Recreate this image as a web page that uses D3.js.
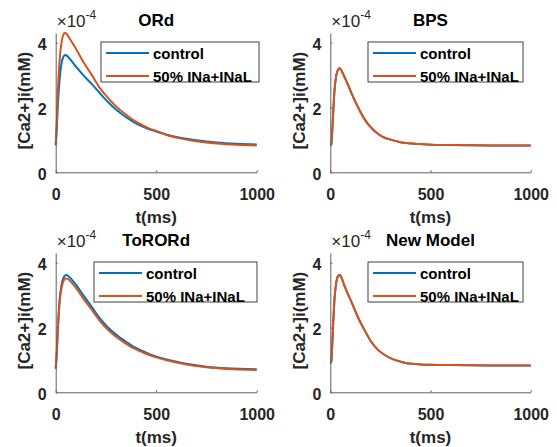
<!DOCTYPE html>
<html>
<head>
<meta charset="utf-8">
<script src="https://cdn.jsdelivr.net/npm/d3@7"></script>
<style>
  body { margin: 0; background: #fff; }
  svg { display: block; font-family: "Liberation Sans", Arial, sans-serif; }
</style>
</head>
<body>
<svg id="chart" width="557" height="447"></svg>
<script>
// values in units of 1e-4 mM
const seriesNames = ['control', '50% INa+INaL']
const titles = ['ORd', 'BPS', 'ToRORd', 'New Model']
const xTicks = [0, 500, 1000]
const yTicks = [0, 2, 4]

const ordTime = [0, 5, 10, 20, 30, 40, 46, 55, 70, 100, 137, 180, 220, 260, 303, 350, 386, 430, 469, 500, 552, 600, 700, 800, 900, 1000]
const ordControl = [0.83, 1.3, 2.0, 2.9, 3.4, 3.58, 3.62, 3.6, 3.5, 3.27, 3.0, 2.72, 2.44, 2.17, 1.92, 1.7, 1.56, 1.42, 1.32, 1.26, 1.16, 1.09, 0.99, 0.92, 0.88, 0.86]
const ordHalf = [0.88, 1.5, 2.4, 3.5, 4.05, 4.27, 4.3, 4.27, 4.12, 3.82, 3.41, 3.0, 2.6, 2.3, 2.02, 1.78, 1.61, 1.46, 1.34, 1.28, 1.15, 1.07, 0.96, 0.89, 0.85, 0.83]

const bpsTime = [0, 5, 10, 15, 20, 30, 40, 47, 55, 70, 90, 110, 139, 170, 200, 222, 260, 305, 350, 388, 450, 500, 600, 800, 1000]
const bpsControl = [0.84, 0.85, 1.3, 1.9, 2.45, 3.0, 3.18, 3.21, 3.15, 2.95, 2.68, 2.38, 2.0, 1.65, 1.4, 1.27, 1.1, 1.0, 0.93, 0.9, 0.87, 0.85, 0.84, 0.83, 0.83]
const bpsHalf = [0.84, 0.85, 1.3, 1.9, 2.45, 3.0, 3.18, 3.21, 3.15, 2.95, 2.68, 2.38, 2.0, 1.65, 1.4, 1.27, 1.1, 1.0, 0.93, 0.9, 0.87, 0.85, 0.84, 0.83, 0.83]

const torordTime = [0, 5, 10, 20, 30, 40, 51, 60, 80, 100, 137, 180, 220, 260, 303, 350, 386, 430, 469, 552, 650, 750, 850, 1000]
const torordControl = [0.74, 1.2, 1.9, 2.9, 3.35, 3.55, 3.62, 3.6, 3.48, 3.33, 3.0, 2.63, 2.28, 2.0, 1.77, 1.56, 1.41, 1.28, 1.17, 1.01, 0.88, 0.79, 0.74, 0.71]
const torordHalf = [0.72, 1.15, 1.8, 2.8, 3.25, 3.45, 3.51, 3.5, 3.38, 3.23, 2.9, 2.54, 2.2, 1.93, 1.7, 1.5, 1.36, 1.24, 1.14, 0.99, 0.86, 0.77, 0.72, 0.69]

const newTime = [0, 5, 10, 15, 20, 30, 40, 47, 55, 70, 90, 105, 139, 171, 200, 238, 280, 321, 360, 404, 450, 500, 600, 800, 1000]
const newControl = [0.9, 0.95, 1.5, 2.2, 2.8, 3.4, 3.6, 3.62, 3.55, 3.3, 3.0, 2.8, 2.3, 1.92, 1.6, 1.31, 1.12, 1.0, 0.93, 0.88, 0.86, 0.85, 0.84, 0.83, 0.83]
const newHalf = [0.9, 0.95, 1.5, 2.2, 2.8, 3.4, 3.6, 3.62, 3.55, 3.3, 3.0, 2.8, 2.3, 1.92, 1.6, 1.31, 1.12, 1.0, 0.93, 0.88, 0.86, 0.85, 0.84, 0.83, 0.83]

const colors = ['#0072BD', '#D95319']

const panelData = [
  { time: ordTime, series: [ordControl, ordHalf] },
  { time: bpsTime, series: [bpsControl, bpsHalf] },
  { time: torordTime, series: [torordControl, torordHalf] },
  { time: newTime, series: [newControl, newHalf] }
]

// axes boxes in page pixels
const layout = [
  { left: 55.7, top: 33, width: 201, height: 139.3, legX: 45.3, legW: 158 },
  { left: 330.3, top: 33, width: 200.4, height: 139.3, legX: 37.7, legW: 155 },
  { left: 55.7, top: 253, width: 201, height: 139.3, legX: 38.3, legW: 163 },
  { left: 330.3, top: 253, width: 200.4, height: 139.3, legX: 37.7, legW: 155 }
]

const svg = d3.select('#chart')

panelData.forEach((p, i) => {
  const L = layout[i]
  const g = svg.append('g').attr('transform', `translate(${L.left},${L.top})`)

  const x = d3.scaleLinear().domain([0, 1000]).range([0, L.width])
  const y = d3.scaleLinear().domain([0, 4.3]).range([L.height, 0])

  // curves
  const line = d3.line()
    .x(d => x(d[0]))
    .y(d => y(d[1]))
    .curve(d3.curveMonotoneX)

  p.series.forEach((vals, k) => {
    g.append('path')
      .datum(p.time.map((t, j) => [t, vals[j]]))
      .attr('d', line)
      .attr('fill', 'none')
      .attr('stroke', colors[k])
      .attr('stroke-width', 2)
  })

  // axes (MATLAB style: ticks point inward)
  const xAxis = g.append('g')
    .attr('transform', `translate(0,${L.height})`)
    .call(d3.axisBottom(x).tickValues(xTicks).tickFormat(d3.format('d'))
      .tickSizeInner(-2).tickSizeOuter(0).tickPadding(11))
  const yAxis = g.append('g')
    .call(d3.axisLeft(y).tickValues(yTicks).tickFormat(d3.format('d'))
      .tickSizeInner(-2).tickSizeOuter(0).tickPadding(9))

  ;[xAxis, yAxis].forEach(a => {
    a.select('.domain').attr('stroke', '#606060').attr('stroke-width', 1)
    a.selectAll('.tick line').attr('stroke', '#606060')
    a.selectAll('.tick text')
      .attr('fill', '#262626')
      .style('font-size', '16px')
      .style('font-weight', 'bold')
  })
  xAxis.selectAll('.tick text').attr('dy', '1.05em')
  yAxis.selectAll('.tick text').attr('dy', '0.45em')

  // axis labels
  g.append('text')
    .attr('x', L.width / 2)
    .attr('y', L.height + 51)
    .attr('text-anchor', 'middle')
    .attr('fill', '#262626')
    .style('font-size', '17px')
    .style('font-weight', 'bold')
    .text('t(ms)')

  g.append('text')
    .attr('transform', `translate(-31,${L.height / 2 - 2}) rotate(-90)`)
    .attr('text-anchor', 'middle')
    .attr('dominant-baseline', 'central')
    .attr('fill', '#262626')
    .style('font-size', '17px')
    .style('font-weight', 'bold')
    .text('[Ca2+]i(mM)')

  // title
  g.append('text')
    .attr('x', L.width / 2)
    .attr('y', -7)
    .attr('text-anchor', 'middle')
    .attr('fill', '#000')
    .style('font-size', '17px')
    .style('font-weight', 'bold')
    .text(titles[i])

  // exponent label
  const expo = g.append('text')
    .attr('x', 1)
    .attr('y', -6)
    .attr('fill', '#262626')
    .style('font-size', '17px')
  expo.append('tspan').text('\u00d710')
  expo.append('tspan').attr('dy', -8).style('font-size', '12px').text('-4')

  // legend
  const leg = g.append('g').attr('transform', `translate(${L.legX},9)`)
  leg.append('rect')
    .attr('width', L.legW)
    .attr('height', 40)
    .attr('fill', '#fff')
    .attr('stroke', '#404040')
    .attr('stroke-width', 1)
  seriesNames.forEach((name, k) => {
    const ry = 11 + k * 23
    leg.append('line')
      .attr('x1', 5).attr('x2', 48)
      .attr('y1', ry).attr('y2', ry)
      .attr('stroke', colors[k])
      .attr('stroke-width', 2)
    leg.append('text')
      .attr('x', 52)
      .attr('y', ry)
      .attr('dominant-baseline', 'central')
      .attr('fill', '#000')
      .style('font-size', '15px')
      .style('font-weight', 'bold')
      .text(name)
  })
})
</script>
</body>
</html>
